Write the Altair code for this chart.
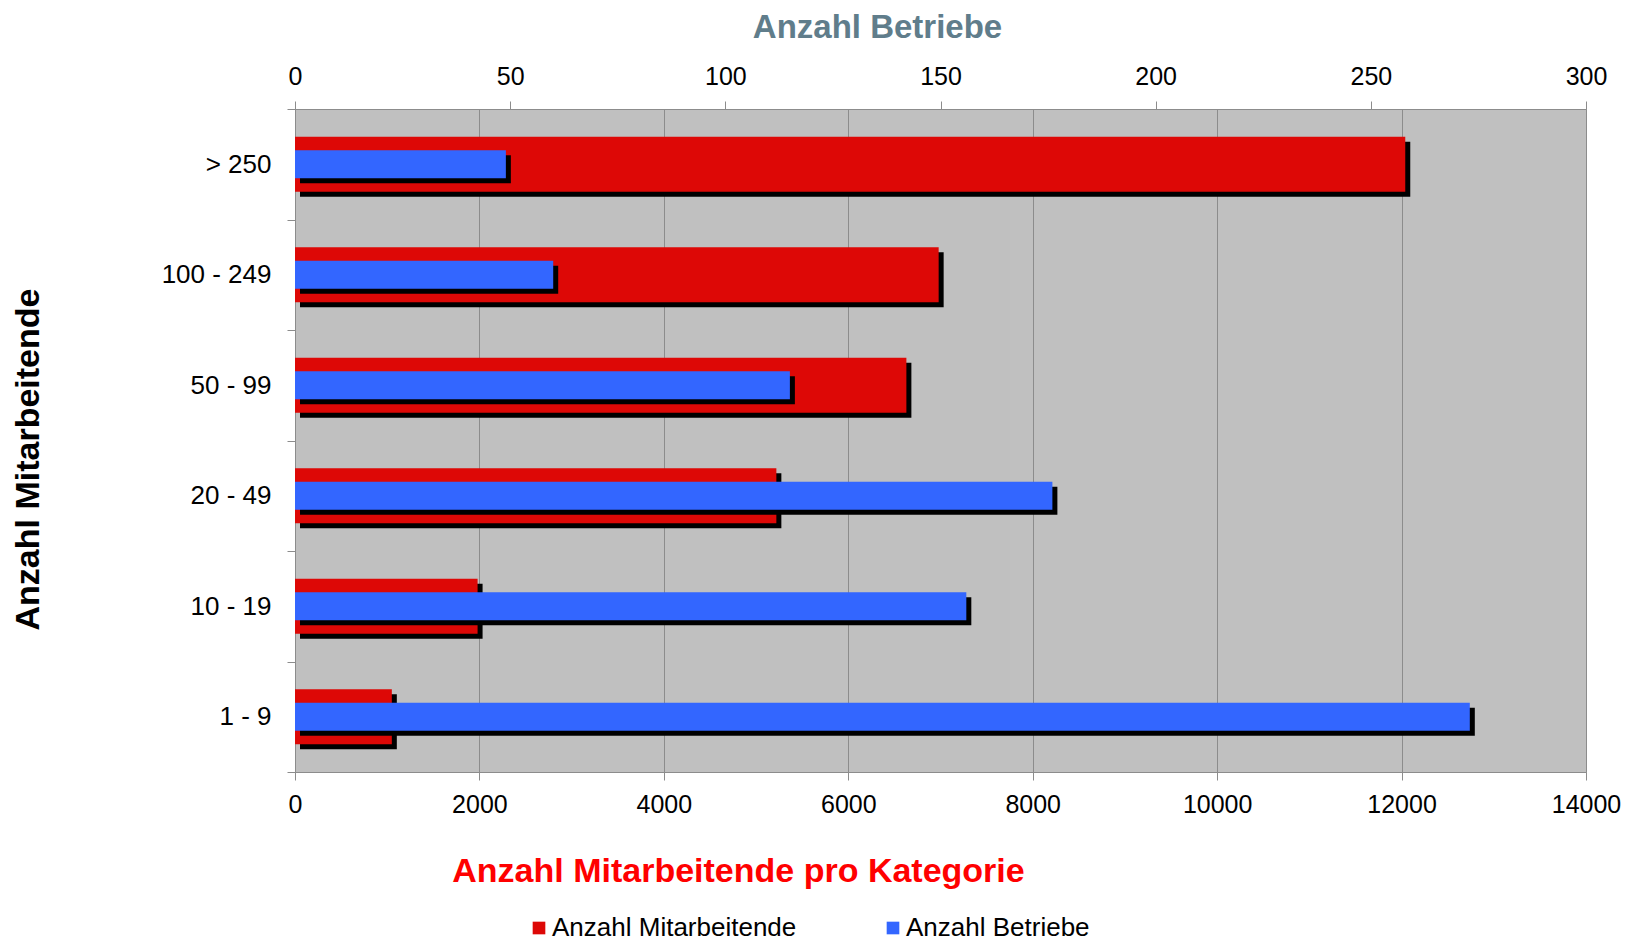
import altair as alt
import pandas as pd

categories = ["> 250", "100 - 249", "50 - 99", "20 - 49", "10 - 19", "1 - 9"]
mitarbeitende = [12040, 6980, 6630, 5220, 1980, 1050]
betriebe = [49, 60, 115, 176, 156, 273]
bottom_ticks = [0, 2000, 4000, 6000, 8000, 10000, 12000, 14000]
top_ticks = [0, 50, 100, 150, 200, 250, 300]
series = ["Anzahl Mitarbeitende", "Anzahl Betriebe"]
series_colors = ["#DD0806", "#3366FF"]

df = pd.DataFrame({"Kategorie": categories, "Mitarbeitende": mitarbeitende, "Betriebe": betriebe})

FONT = "Liberation Sans"
GRAY = "#8c8c8c"

y_enc = alt.Y(
    "Kategorie:N",
    sort=categories,
    scale=alt.Scale(paddingInner=0, paddingOuter=0),
    axis=alt.Axis(
        title="Anzahl Mitarbeitende",
        titleFont=FONT, titleFontSize=34, titleFontWeight="bold", titleColor="black",
        titleAngle=-90, titleAlign="center", titleBaseline="middle",
        titleX=-267, titleY=350,
        labelFont=FONT, labelFontSize=26, labelColor="black", labelPadding=16,
        tickBand="extent", tickSize=8, tickColor=GRAY, domainColor=GRAY,
        grid=False,
    ),
)

bottom_axis = alt.Axis(
    orient="bottom", values=bottom_ticks, format="d",
    title="Anzahl Mitarbeitende pro Kategorie",
    titleFont=FONT, titleFontSize=34, titleFontWeight="bold", titleColor="#FF0000",
    titleX=443, titleY=99, titleBaseline="middle", titleAlign="center",
    labelFont=FONT, labelFontSize=25, labelColor="black", labelBaseline="middle", labelPadding=24,
    labelFlush=False,
    tickSize=8, tickColor=GRAY, domainColor=GRAY,
    grid=True, gridColor=GRAY, gridWidth=1,
)

top_axis = alt.Axis(
    orient="top", values=top_ticks, format="d",
    title="Anzahl Betriebe",
    titleFont=FONT, titleFontSize=33, titleFontWeight="bold", titleColor="#607D8B",
    titleX=582, titleY=-82, titleBaseline="middle", titleAlign="center",
    labelFont=FONT, labelFontSize=25, labelColor="black", labelBaseline="middle", labelPadding=25,
    labelFlush=False,
    tickSize=8, tickColor=GRAY, domainColor=GRAY,
    grid=False,
)

x_bottom_scale = alt.Scale(domain=[0, 14000], nice=False)
x_top_scale = alt.Scale(domain=[0, 300], nice=False)

color_scale = alt.Scale(domain=series, range=series_colors)
legend = alt.Legend(
    title=None, orient="none", legendX=231, legendY=806, direction="horizontal",
    symbolType="square", symbolSize=160, symbolStrokeWidth=0, symbolOpacity=1,
    labelFont=FONT, labelFontSize=26, labelColor="black", labelOffset=0,
    columnPadding=83, padding=0, labelLimit=400,
)

base = alt.Chart(df)

red_shadow = base.mark_bar(size=55, color="black", xOffset=5, x2Offset=5, yOffset=5, y2Offset=5).encode(
    x=alt.X("Mitarbeitende:Q", scale=x_bottom_scale, axis=bottom_axis),
    y=y_enc,
)
red_bar = base.transform_calculate(serie=f"'{series[0]}'").mark_bar(size=55).encode(
    x=alt.X("Mitarbeitende:Q", scale=x_bottom_scale, axis=bottom_axis),
    y=y_enc,
    color=alt.Color("serie:N", scale=color_scale, legend=legend),
)
blue_shadow = base.mark_bar(size=28, color="black", xOffset=5, x2Offset=5, yOffset=5, y2Offset=5).encode(
    x=alt.X("Betriebe:Q", scale=x_top_scale, axis=top_axis),
    y=y_enc,
)
blue_bar = base.transform_calculate(serie=f"'{series[1]}'").mark_bar(size=28).encode(
    x=alt.X("Betriebe:Q", scale=x_top_scale, axis=top_axis),
    y=y_enc,
    color=alt.Color("serie:N", scale=color_scale, legend=legend),
)

chart = alt.layer(
    alt.layer(red_shadow, red_bar),
    alt.layer(blue_shadow, blue_bar),
).resolve_scale(x="independent").properties(
    width=1291, height=663,
    padding={"left": 287, "top": 101, "right": 44, "bottom": 171},
    autosize=alt.AutoSizeParams(type="none"),
    background="white",
).configure_view(fill="#C0C0C0", stroke=GRAY)

chart.save("out.html", embed_options={"renderer": "svg", "actions": False})
